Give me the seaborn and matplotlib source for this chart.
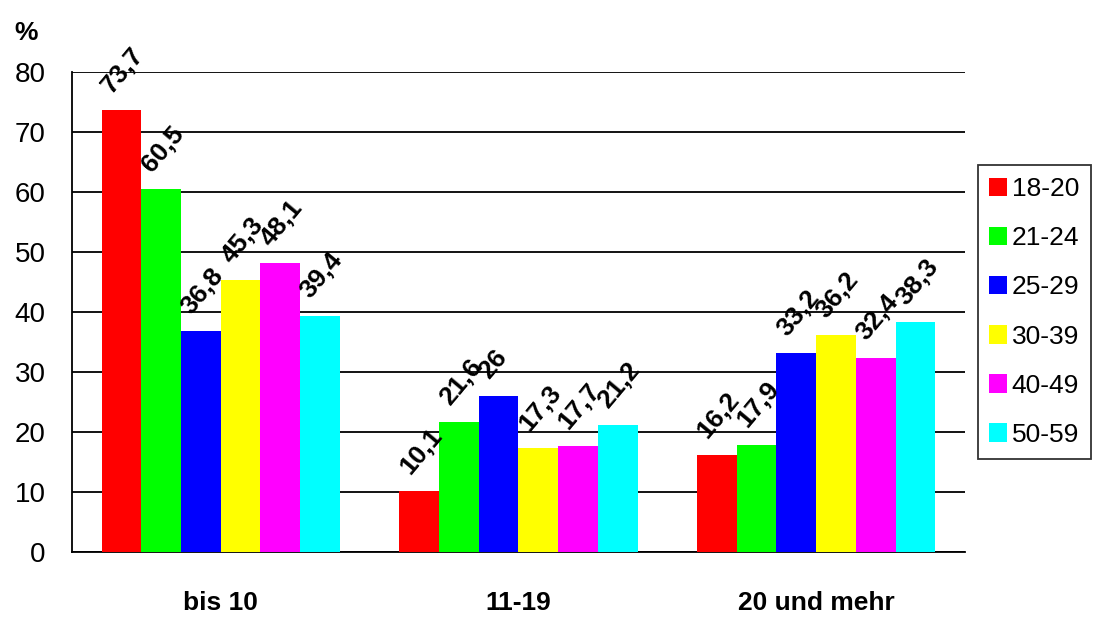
import pandas as pd
import matplotlib.pyplot as plt
import seaborn as sns

# Daten
kategorien = ['bis 10', '11-19', '20 und mehr']
altersgruppen = ['18-20', '21-24', '25-29', '30-39', '40-49', '50-59']
werte_18_20 = [73.7, 10.1, 16.2]
werte_21_24 = [60.5, 21.6, 17.9]
werte_25_29 = [36.8, 26.0, 33.2]
werte_30_39 = [45.3, 17.3, 36.2]
werte_40_49 = [48.1, 17.7, 32.4]
werte_50_59 = [39.4, 21.2, 38.3]
farben = ['#ff0000', '#00ff00', '#0000ff', '#ffff00', '#ff00ff', '#00ffff']

serien = [werte_18_20, werte_21_24, werte_25_29, werte_30_39, werte_40_49, werte_50_59]
rows = []
for gruppe, werte in zip(altersgruppen, serien):
    for kat, w in zip(kategorien, werte):
        rows.append({'kategorie': kat, 'alter': gruppe, 'wert': w})
df = pd.DataFrame(rows)

sns.set_style('white')
plt.rcParams['font.family'] = ['Liberation Sans', 'DejaVu Sans']
plt.rcParams['text.color'] = 'black'
plt.rcParams['xtick.color'] = 'black'
plt.rcParams['ytick.color'] = 'black'

fig = plt.figure(figsize=(10.97, 6.19), dpi=100)
ax = fig.add_axes([0.0656, 0.1082, 0.8141, 0.7755])

sns.barplot(data=df, x='kategorie', y='wert', hue='alter', order=kategorien,
            hue_order=altersgruppen, palette=farben, width=0.8, gap=0,
            saturation=1, errorbar=None, ax=ax, zorder=3, linewidth=0)

ax.set_ylim(0, 80)
ax.set_xlim(-0.5, 2.5)
ax.set_yticks(range(0, 81, 10))
ax.yaxis.grid(True, color='black', linewidth=1.3, zorder=0)
ax.set_xlabel('')
ax.set_ylabel('')
for s in ['top', 'right']:
    ax.spines[s].set_visible(False)
for s in ['left', 'bottom']:
    ax.spines[s].set_color('black')
    ax.spines[s].set_linewidth(1.3)

ax.tick_params(axis='y', direction='out', length=9, width=1.3, color='black',
               labelsize=20, pad=10, labelcolor='black')
ax.tick_params(axis='x', which='major', length=0, labelsize=19, pad=28, labelcolor='black')
ax.set_xticks([-0.5, 0.5, 1.5, 2.5], minor=True)
ax.tick_params(axis='x', which='minor', direction='out', length=9, width=1.3, color='black')
for lab in ax.get_xticklabels():
    lab.set_fontweight('bold')

# Werte an den Balken
for cont in ax.containers:
    for bar in cont:
        h = bar.get_height()
        txt = ('%g' % h).replace('.', ',')
        ax.annotate(txt, (bar.get_x() + bar.get_width() / 2, h),
                    xytext=(-4, 9), textcoords='offset points',
                    rotation=50, rotation_mode='anchor', ha='left', va='bottom',
                    fontsize=19, fontweight='bold', color='black', zorder=5)

leg = ax.legend(loc='center left', bbox_to_anchor=(1.014, 0.5), frameon=True,
                fancybox=False, fontsize=19, handlelength=0.65, handleheight=0.7,
                handletextpad=0.2, labelspacing=0.95, borderpad=0.45,
                borderaxespad=0)
leg.get_frame().set_edgecolor('black')
leg.get_frame().set_linewidth(1.3)
for t in leg.get_texts():
    t.set_color('black')

fig.text(0.013, 0.935, '%', fontsize=19, fontweight='bold', color='black')

plt.savefig('out.png', dpi=100)
